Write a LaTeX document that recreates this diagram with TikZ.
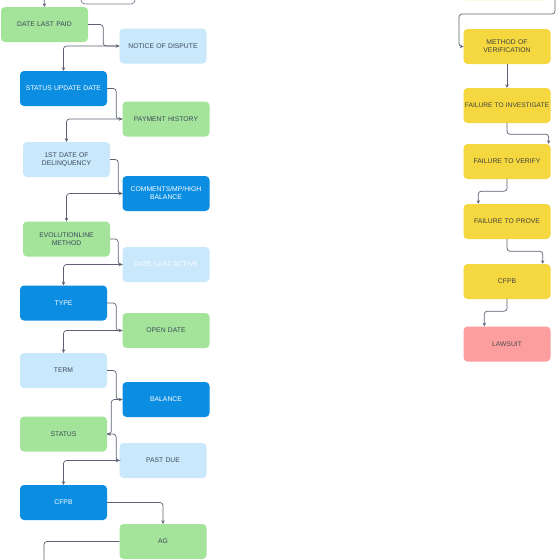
\documentclass[tikz,border=0pt]{standalone}
\usepackage{fontspec}
\setmainfont{Liberation Sans}
\usetikzlibrary{arrows.meta}
\definecolor{cgreen}{HTML}{A3E49A}
\definecolor{clight}{HTML}{C9E8FC}
\definecolor{cblue}{HTML}{0B8DE2}
\definecolor{cyellow}{HTML}{F5D83F}
\definecolor{cpink}{HTML}{FD9E9E}
\definecolor{ctext}{HTML}{3E4A5C}
\definecolor{cline}{HTML}{5C6173}
\tikzset{
  box/.style={rectangle, rounded corners=4pt, minimum width=87pt, minimum height=35pt,
    text width=84pt, align=center, inner sep=1pt, font=\fontsize{6.8}{8}\selectfont, text=ctext},
  gbox/.style={box, fill=cgreen},
  lbox/.style={box, fill=clight},
  bbox/.style={box, fill=cblue, text=white},
  ybox/.style={box, fill=cyellow, text=black!75},
  pbox/.style={box, fill=cpink, text=black!70},
  conn/.style={draw=cline, line width=0.7pt, rounded corners=3pt, -{Stealth[length=3.5pt,width=3.5pt]}},
  plain/.style={draw=cline, line width=0.7pt, rounded corners=3pt},
}
\begin{document}
\begin{tikzpicture}[x=1pt,y=-1pt]
\useasboundingbox[fill=white] (0,0) rectangle (560,560);
% partial boxes at top
\node[box, draw=cline!80, line width=0.7pt, fill=white, minimum width=54pt, minimum height=36pt, text width=50pt] (topbox) at (108,-14) {};
\node[ybox, fill=cyellow!25] (topy) at (507,-17) {};
% left column
\node[gbox] (dlp) at (44.5,24.5) {DATE LAST PAID};
\node[lbox] (notice) at (163,46) {NOTICE OF DISPUTE};
\node[bbox] (sud) at (63.5,88.5) {STATUS UPDATE DATE};
\node[gbox] (pay) at (166,119) {PAYMENT HISTORY};
\node[lbox] (del) at (66.5,159.5) {1ST DATE OF\\DELINQUENCY};
\node[bbox] (com) at (166,193.5) {COMMENTS/MP/HIGH\\BALANCE};
\node[gbox] (evo) at (66.5,239) {EVOLUTIONLINE\\METHOD};
\node[lbox, text=white] (dla) at (166,264.5) {DATE LAST ACTIVE};
\node[bbox] (type) at (63.5,303) {TYPE};
\node[gbox] (open) at (166,330.5) {OPEN DATE};
\node[lbox] (term) at (63.5,370.5) {TERM};
\node[bbox] (bal) at (166,399.5) {BALANCE};
\node[gbox] (stat) at (63.5,434) {STATUS};
\node[lbox] (past) at (163,460.5) {PAST DUE};
\node[bbox] (cfpbL) at (63.5,502.5) {CFPB};
\node[gbox] (ag) at (163,541.5) {AG};
% right column
\node[ybox] (mov) at (507,46.5) {METHOD OF\\VERIFICATION};
\node[ybox, text width=86pt, inner xsep=0.5pt, font=\fontsize{6.6}{8}\selectfont] (fti) at (507,105.5) {FAILURE TO INVESTIGATE};
\node[ybox] (ftv) at (507,161.5) {FAILURE TO VERIFY};
\node[ybox] (ftp) at (507,221.5) {FAILURE TO PROVE};
\node[ybox] (cfpbR) at (507,281.5) {CFPB};
\node[pbox] (law) at (507,344) {LAWSUIT};
% free ends
\coordinate (topL) at (44,-5);
\coordinate (topR) at (555,-5);
\coordinate (botL) at (44,565);
% left connectors
\draw[conn] (topL) -- (dlp.north);
\draw[conn] (dlp.east) -- ++(15,0) |- (notice.west);
\draw[conn] (notice.west) -| (sud.north);
\draw[conn] (sud.east) -- ++(9,0) |- (pay.west);
\draw[conn] (pay.west) -| (del.north);
\draw[conn] (del.east) -- ++(8,0) |- (com.west);
\draw[conn] (com.west) -| (evo.north);
\draw[conn] (evo.east) -- ++(8,0) |- (dla.west);
\draw[conn] (dla.west) -| (type.north);
\draw[conn] (type.east) -- ++(9,0) |- (open.west);
\draw[conn] (open.west) -| (term.north);
\draw[conn] (term.east) -- ++(9,0) |- (bal.west);
\draw[conn] (bal.west) -- ++(-11,0) |- (stat.east);
\draw[conn] (stat.east) -- ++(9,0) |- (past.west);
\draw[conn] (past.west) -| (cfpbL.north);
\draw[conn] (cfpbL.east) -| (ag.north);
\draw[plain] (ag.west) -| (botL);
% right connectors
\draw[conn] (topR) |- (459,14) |- (mov.west);
\draw[conn] (mov.south) -- (fti.north);
\draw[conn] (fti.south) -- ++(0,11) -| ([xshift=-2pt]ftv.north east);
\draw[conn] (ftv.south) -- ++(0,12) -| ([xshift=15pt]ftp.north west);
\draw[conn] (ftp.south) -- ++(0,12) -| ([xshift=-8pt]cfpbR.north east);
\draw[conn] (cfpbR.south) -- ++(0,12) -| ([xshift=21pt]law.north west);
\end{tikzpicture}
\end{document}
